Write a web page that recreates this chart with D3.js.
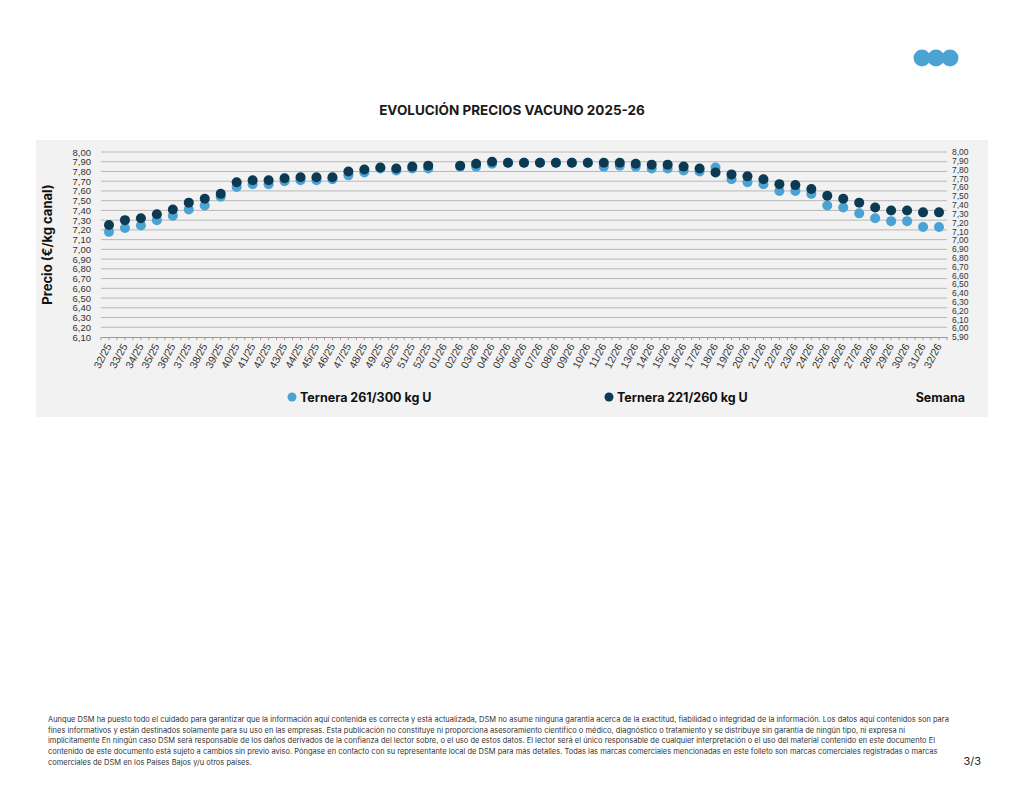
<!DOCTYPE html>
<html lang="es">
<head>
<meta charset="UTF-8">
<title>Evolución precios vacuno 2025-26</title>
<script src="https://d3js.org/d3.v7.min.js"></script>
<style>
body{margin:0;background:#fff;}
svg{display:block;font-family:Inter,Roboto,sans-serif;}
.grid line{stroke:#b8b8b8;stroke-width:1;}
.axis text{font-size:10.5px;fill:#333;}
.axis.yl text{font-size:9.5px;}
.axis.yr text{font-size:8.5px;}
.axis path,.axis line{stroke:#999;}
.foot{font-size:7.5px;fill:#333;}
</style>
</head>
<body>
<script>
// semanas 32/25 .. 32/26
var weeks = ['32/25','33/25','34/25','35/25','36/25','37/25','38/25','39/25','40/25','41/25','42/25',
  '43/25','44/25','45/25','46/25','47/25','48/25','49/25','50/25','51/25','52/25',
  '01/26','02/26','03/26','04/26','05/26','06/26','07/26','08/26','09/26','10/26','11/26','12/26',
  '13/26','14/26','15/26','16/26','17/26','18/26','19/26','20/26','21/26','22/26','23/26','24/26',
  '25/26','26/26','27/26','28/26','29/26','30/26','31/26','32/26'];

// Ternera 261/300 kg U
var ternera261 = [7.18,7.22,7.245,7.30,7.345,7.41,7.45,7.54,7.64,7.67,7.67,
  7.70,7.71,7.71,7.72,7.76,7.79,7.83,7.81,7.83,7.83,
  null,7.85,7.85,7.88,7.89,7.89,7.89,7.89,7.89,7.89,7.85,7.86,
  7.85,7.83,7.83,7.81,7.80,7.84,7.72,7.69,7.67,7.60,7.60,7.57,
  7.45,7.43,7.37,7.32,7.29,7.29,7.23,7.23];

// Ternera 221/260 kg U
var ternera221 = [7.25,7.30,7.32,7.36,7.41,7.48,7.52,7.57,7.69,7.71,7.71,
  7.73,7.74,7.74,7.74,7.80,7.82,7.84,7.83,7.85,7.86,
  null,7.86,7.88,7.90,7.89,7.89,7.89,7.89,7.89,7.89,7.89,7.89,
  7.88,7.87,7.87,7.85,7.83,7.79,7.77,7.75,7.72,7.67,7.66,7.62,
  7.55,7.52,7.48,7.43,7.40,7.40,7.38,7.38];

var leftTicks = d3.range(61, 81).map(function(d){return d/10;});   // 6,10 .. 8,00
var rightTicks = d3.range(59, 81).map(function(d){return d/10;});  // 5,90 .. 8,00

var footer = [
  'Aunque DSM ha puesto todo el cuidado para garantizar que la información aquí contenida es correcta y está actualizada, DSM no asume ninguna garantía acerca de la exactitud, fiabilidad o integridad de la información. Los datos aquí contenidos son para',
  'fines informativos y están destinados solamente para su uso en las empresas. Esta publicación no constituye ni proporciona asesoramiento científico o médico, diagnóstico o tratamiento y se distribuye sin garantía de ningún tipo, ni expresa ni',
  'implícitamente En ningún caso DSM será responsable de los daños derivados de la confianza del lector sobre, o el uso de estos datos. El lector será el único responsable de cualquier interpretación o el uso del material contenido en este documento El',
  'contenido de este documento está sujeto a cambios sin previo aviso. Póngase en contacto con su representante local de DSM para más detalles. Todas las marcas comerciales mencionadas en este folleto son marcas comerciales registradas o marcas',
  'comerciales de DSM en los Países Bajos y/u otros países.'
];

var lightBlue = '#4ba3d3', darkBlue = '#0c3a52';

var width = 1024, height = 791;
var plot = {left:101, right:947, top:152, bottom:337};

var es = d3.formatLocale({decimal:',', thousands:'.', grouping:[3], currency:['€','']});
var fmt = es.format('.2f');

var svg = d3.select('body').append('svg')
  .attr('width', width).attr('height', height);

// logo
svg.append('g').selectAll('circle')
  .data([922, 936, 950]).enter().append('circle')
  .attr('cx', function(d){return d;}).attr('cy', 58).attr('r', 8.5)
  .attr('fill', lightBlue);

// title
svg.append('text')
  .attr('x', 512).attr('y', 115)
  .attr('text-anchor', 'middle')
  .style('font-size', '13.5px').style('font-weight', 'bold').style('fill', '#1a1a1a')
  .text('EVOLUCIÓN PRECIOS VACUNO 2025-26');

// grey panel
svg.append('rect')
  .attr('x', 36).attr('y', 140).attr('width', 952).attr('height', 277)
  .attr('fill', '#f2f2f2');

var xScale = d3.scaleBand().domain(weeks).range([plot.left, plot.right]).padding(0);
var yScale = d3.scaleLinear().domain([6.1, 8.0]).range([plot.bottom, plot.top]);
var yRight = d3.scaleLinear().domain([5.9, 8.0]).range([plot.bottom, plot.top]);

// gridlines
svg.append('g').attr('class', 'grid')
  .selectAll('line').data(leftTicks.slice(1)).enter().append('line')
  .attr('x1', plot.left).attr('x2', plot.right)
  .attr('y1', function(d){return yScale(d);}).attr('y2', function(d){return yScale(d);});

// left axis
var yAxis = d3.axisLeft(yScale).tickValues(leftTicks).tickSize(0).tickPadding(10)
  .tickFormat(function(d){return fmt(d);});
svg.append('g').attr('class', 'axis yl')
  .attr('transform', 'translate(' + plot.left + ',0)')
  .call(yAxis)
  .call(function(g){g.select('.domain').remove();});

// right axis
var yAxisR = d3.axisRight(yRight).tickValues(rightTicks).tickSize(0).tickPadding(5)
  .tickFormat(function(d){return fmt(d);});
svg.append('g').attr('class', 'axis yr')
  .attr('transform', 'translate(' + plot.right + ',0)')
  .call(yAxisR)
  .call(function(g){g.select('.domain').remove();});

// x axis
var xAxis = d3.axisBottom(xScale).tickSize(0).tickPadding(0);
var gx = svg.append('g').attr('class', 'axis')
  .attr('transform', 'translate(0,' + plot.bottom + ')')
  .call(xAxis);
gx.select('.domain').attr('stroke', '#b0b0b0');
gx.selectAll('.tick text')
  .attr('text-anchor', 'end')
  .attr('dy', 0)
  .attr('transform', 'translate(3,9) rotate(-62)');

// small ticks at band edges and centres
var tickPos = [];
weeks.forEach(function(w){
  tickPos.push(xScale(w));
  tickPos.push(xScale(w) + xScale.bandwidth() / 2);
});
tickPos.push(plot.right);
gx.selectAll('.minor').data(tickPos).enter().append('line')
  .attr('class', 'minor')
  .attr('x1', function(d){return d;}).attr('x2', function(d){return d;})
  .attr('y1', 0).attr('y2', 3)
  .attr('stroke', '#aaa');

// y title
svg.append('text')
  .attr('transform', 'translate(52,' + ((plot.top + plot.bottom) / 2) + ') rotate(-90)')
  .attr('text-anchor', 'middle')
  .style('font-size', '13px').style('font-weight', 'bold').style('fill', '#111')
  .text('Precio (€/kg canal)');

// points
function drawSeries(values, color){
  svg.append('g').selectAll('circle')
    .data(values.map(function(v, i){return {w:weeks[i], v:v};}).filter(function(d){return d.v !== null;}))
    .enter().append('circle')
    .attr('cx', function(d){return xScale(d.w) + xScale.bandwidth() / 2;})
    .attr('cy', function(d){return yScale(d.v);})
    .attr('r', 5)
    .attr('fill', color);
}
drawSeries(ternera261, lightBlue);
drawSeries(ternera221, darkBlue);

// legend
var legend = [
  {name:'Ternera 261/300 kg U', color:lightBlue, x:292},
  {name:'Ternera 221/260 kg U', color:darkBlue, x:609}
];
var lg = svg.append('g').selectAll('g').data(legend).enter().append('g')
  .attr('transform', function(d){return 'translate(' + d.x + ',397)';});
lg.append('circle').attr('r', 4.5).attr('fill', function(d){return d.color;});
lg.append('text').attr('x', 8).attr('y', 4.5)
  .style('font-size', '12.5px').style('font-weight', 'bold').style('fill', '#111')
  .text(function(d){return d.name;});

svg.append('text')
  .attr('x', 965).attr('y', 401.5).attr('text-anchor', 'end')
  .style('font-size', '12.5px').style('font-weight', 'bold').style('fill', '#111')
  .text('Semana');

// footer
svg.append('g').selectAll('text').data(footer).enter().append('text')
  .attr('class', 'foot')
  .attr('x', 48)
  .attr('y', function(d, i){return 722 + i * 10.7;})
  .text(function(d){return d;});

svg.append('text')
  .attr('x', 981).attr('y', 765).attr('text-anchor', 'end')
  .style('font-size', '11px').style('fill', '#222')
  .text('3/3');
</script>
</body>
</html>
